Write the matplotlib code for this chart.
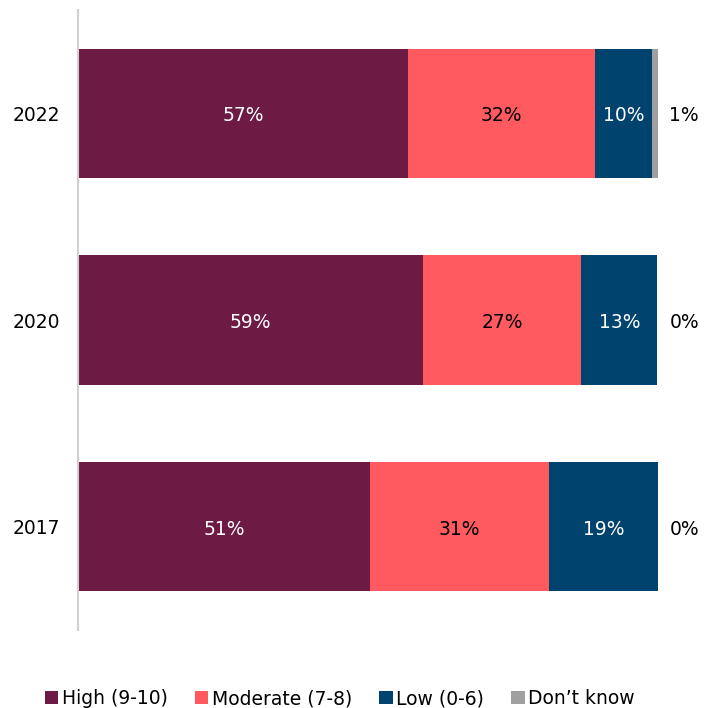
import matplotlib.pyplot as plt
from matplotlib.patches import Patch

# survey data (share of respondents, %)
years = ["2022", "2020", "2017"]
high = [56.9, 59.4, 50.4]
moderate = [32.2, 27.4, 30.8]
low = [9.9, 13.1, 18.8]
dont_know = [1.0, 0.0, 0.0]

labels_high = ["57%", "59%", "51%"]
labels_moderate = ["32%", "27%", "31%"]
labels_low = ["10%", "13%", "19%"]
labels_dk = ["1%", "0%", "0%"]

series = ["High (9-10)", "Moderate (7-8)", "Low (0-6)", "Don\u2019t know"]
colors = ["#6D1A45", "#FF5A5F", "#00436E", "#A0A0A0"]
text_colors = ["white", "black", "white"]

plt.rcParams['font.family'] = ['DejaVu Sans']
fs = 13.5

fig = plt.figure(figsize=(7.04, 7.08), dpi=100)
ax = fig.add_axes([78 / 704, 78 / 708, 580 / 704, 620 / 708])

ypos = list(range(len(years)))
left = [0.0] * len(years)
values = [high, moderate, low, dont_know]
bar_labels = [labels_high, labels_moderate, labels_low]
for i, vals in enumerate(values):
    ax.barh(ypos, vals, left=left, height=0.625, color=colors[i], linewidth=0)
    for j, v in enumerate(vals):
        if i < 3:
            ax.text(left[j] + v / 2, ypos[j] + 0.012, bar_labels[i][j], ha='center', va='center',
                    color=text_colors[i], fontsize=fs)
    left = [a + b for a, b in zip(left, vals)]

# don't know labels outside the bars
for j in ypos:
    ax.text(104.5, j + 0.012, labels_dk[j], ha='center', va='center', fontsize=fs, clip_on=False)

ax.set_xlim(0, 100)
ax.set_ylim(2.5, -0.5)
ax.set_yticks(ypos)
ax.set_yticklabels(years, fontsize=fs)
ax.tick_params(axis='y', length=0, pad=13)
ax.set_xticks([])
for s in ['top', 'right', 'bottom']:
    ax.spines[s].set_visible(False)
ax.spines['left'].set_color('#D0D0D0')
ax.spines['left'].set_linewidth(1.5)

handles = [Patch(facecolor=c, edgecolor='none') for c in colors]
fig.legend(handles, series, loc='lower center', bbox_to_anchor=(0.483, -0.024), ncol=4,
           frameon=False, fontsize=fs, handlelength=0.7, handleheight=0.7,
           handletextpad=0.2, columnspacing=1.45)

fig.savefig("out.png", dpi=100)
